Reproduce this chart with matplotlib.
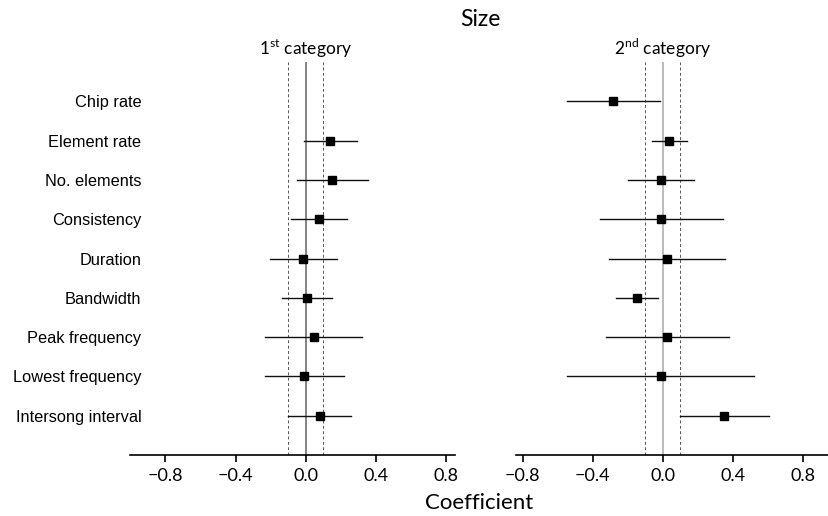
import matplotlib.pyplot as plt

plt.rcParams['font.family'] = ['Liberation Sans', 'DejaVu Sans']
plt.rcParams['mathtext.fontset'] = 'custom'
plt.rcParams['mathtext.rm'] = 'Lato'

traits = ['Chip rate', 'Element rate', 'No. elements', 'Consistency', 'Duration',
          'Bandwidth', 'Peak frequency', 'Lowest frequency', 'Intersong interval']

# 1st category (no estimate for chip rate)
est1 = [None, 0.140, 0.149, 0.073, -0.015, 0.004, 0.044, -0.010, 0.079]
low1 = [None, -0.010, -0.050, -0.086, -0.205, -0.134, -0.232, -0.232, -0.100]
high1 = [None, 0.289, 0.352, 0.236, 0.176, 0.149, 0.322, 0.220, 0.259]

# 2nd category
est2 = [-0.285, 0.036, -0.011, -0.010, 0.023, -0.147, 0.027, -0.011, 0.352]
low2 = [-0.549, -0.059, -0.199, -0.356, -0.306, -0.264, -0.323, -0.547, 0.101]
high2 = [-0.015, 0.140, 0.176, 0.344, 0.354, -0.025, 0.379, 0.524, 0.608]

xticks = [-0.8, -0.4, 0.0, 0.4, 0.8]
xticklabels = ['\u22120.8', '\u22120.4', '0.0', '0.4', '0.8']

fig = plt.figure(figsize=(8.29, 5.16), dpi=100)
ax1 = fig.add_axes([0.157, 0.118, 0.392, 0.762])
ax2 = fig.add_axes([0.622, 0.118, 0.378, 0.762])


def draw(ax, est, low, high, zero_color):
    ax.axvline(0, color=zero_color, lw=1.3, zorder=1)
    for v in (-0.1, 0.1):
        ax.axvline(v, color='#555555', lw=0.7, ls=(0, (3, 2.5)), zorder=1)
    for i, (e, lo, hi) in enumerate(zip(est, low, high)):
        if e is None:
            continue
        ax.plot([lo, hi], [i, i], color='#111111', lw=1.0, zorder=2)
        ax.plot(e, i, marker='s', color='black', markersize=6, zorder=3)
    ax.set_ylim(len(traits), -1)
    for s in ['left', 'right', 'top']:
        ax.spines[s].set_visible(False)
    ax.spines['bottom'].set_linewidth(1.2)
    ax.set_xticks(xticks)
    ax.set_xticklabels(xticklabels)
    ax.tick_params(axis='x', length=5, width=1.2, labelsize=13, pad=4)
    for lab in ax.get_xticklabels():
        lab.set_family(['Lato', 'DejaVu Sans'])


draw(ax1, est1, low1, high1, '#7a7a7a')
draw(ax2, est2, low2, high2, '#b5b5b5')

ax1.set_xlim(-1.0, 0.85)
ax2.set_xlim(-0.84, 0.95)

ax1.set_yticks(range(len(traits)))
ax1.set_yticklabels(traits, fontsize=11.8)
ax1.tick_params(axis='y', length=0, pad=-8)
ax2.set_yticks([])

ax1.text(0, 1.005, r'1$^{\mathrm{st}}$ category', transform=ax1.get_xaxis_transform(),
         ha='center', va='bottom', fontsize=12.5, family=['Lato', 'DejaVu Sans'])
ax2.text(0, 1.005, r'2$^{\mathrm{nd}}$ category', transform=ax2.get_xaxis_transform(),
         ha='center', va='bottom', fontsize=12.5, family=['Lato', 'DejaVu Sans'])

fig.text(0.580, 0.962, 'Size', ha='center', va='center', fontsize=16.5,
         family=['Lato', 'DejaVu Sans'])
fig.text(0.578, 0.025, 'Coefficient', ha='center', va='center', fontsize=16,
         family=['Lato', 'DejaVu Sans'])

plt.savefig('out.png', dpi=100)
